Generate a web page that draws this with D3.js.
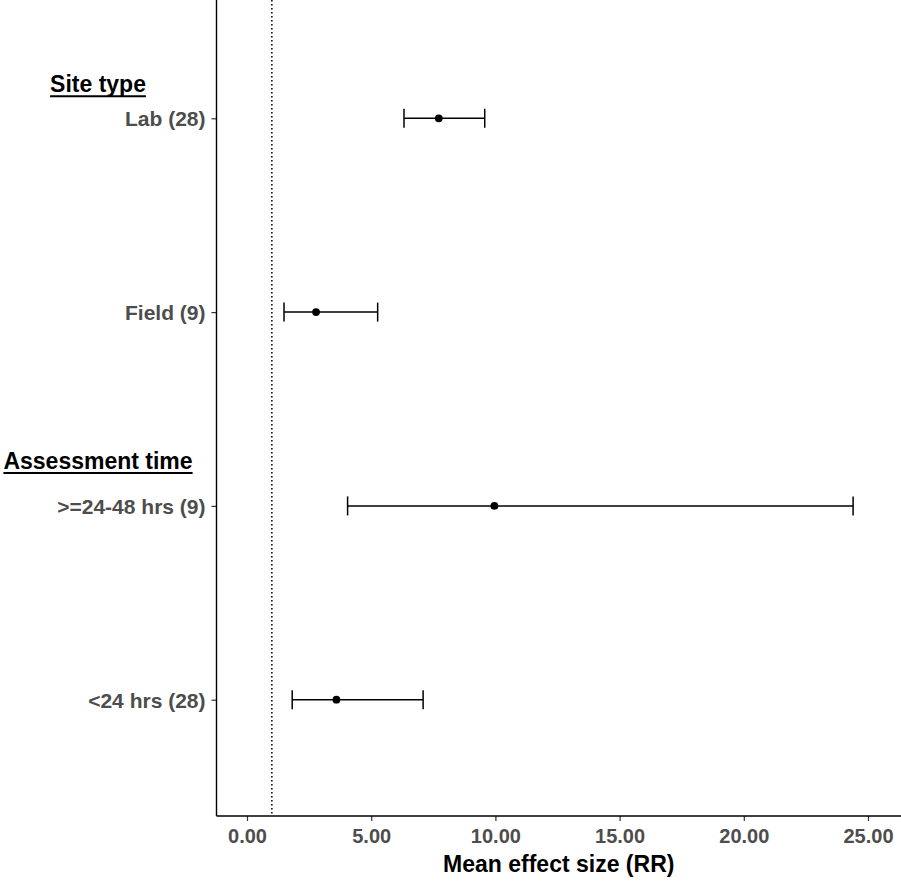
<!DOCTYPE html>
<html>
<head>
<meta charset="utf-8">
<script src="https://cdn.jsdelivr.net/npm/d3@7"></script>
<style>
  html, body { margin: 0; padding: 0; background: #fff; }
  svg { display: block; }
  text { font-family: "Liberation Sans", Arial, sans-serif; font-weight: bold; }
</style>
</head>
<body>
<script>
// ---- data ----
const categories = ["Lab (28)", "Field (9)", ">=24-48 hrs (9)", "<24 hrs (28)"];
const means = [7.72, 2.78, 9.96, 3.60];
const lower = [6.32, 1.49, 4.05, 1.82];
const upper = [9.57, 5.26, 24.40, 7.09];
const groupHeaders = ["Site type", "Assessment time"];
const groupFirstCategory = ["Lab (28)", ">=24-48 hrs (9)"];
const xTicks = [0, 5, 10, 15, 20, 25];
const refLine = 1;
const xTitle = "Mean effect size (RR)";

// ---- layout ----
const W = 901, H = 881;
const panelLeft = 216.5, panelRight = 901, panelTop = 2, panelBottom = 816;

const svg = d3.select("body").append("svg").attr("width", W).attr("height", H);

const x = d3.scaleLinear().domain([0, 25]).range([247, 868]);
const y = d3.scalePoint().domain(categories).range([panelTop, panelBottom]).padding(0.6);

// reference dotted line
svg.append("line")
  .attr("x1", x(refLine)).attr("x2", x(refLine))
  .attr("y1", 0).attr("y2", panelBottom)
  .attr("stroke", "#000").attr("stroke-width", 1.5)
  .attr("stroke-dasharray", "1.5,2.5");

// axes
const xAxis = d3.axisBottom(x).tickValues(xTicks).tickFormat(d3.format(".2f")).tickSize(5).tickSizeOuter(0);
const gx = svg.append("g").attr("transform", `translate(0,${panelBottom})`).call(xAxis);
gx.select(".domain").remove();
gx.selectAll(".tick line").attr("stroke", "#333").attr("stroke-width", 1.2);
gx.selectAll(".tick text").attr("fill", "#4d4d4d").attr("font-size", 20).attr("dy", null).attr("y", 27);
svg.append("line").attr("x1", panelLeft).attr("x2", panelRight)
  .attr("y1", panelBottom).attr("y2", panelBottom)
  .attr("stroke", "#000").attr("stroke-width", 1.4);

const yAxis = d3.axisLeft(y).tickSize(5).tickSizeOuter(0).tickPadding(6);
const gy = svg.append("g").attr("transform", `translate(${panelLeft},0)`).call(yAxis);
gy.select(".domain").remove();
gy.selectAll(".tick line").attr("stroke", "#333").attr("stroke-width", 1.2);
gy.selectAll(".tick text").attr("fill", "#4d4d4d").attr("font-size", 21).attr("dy", "0.36em");
svg.append("line").attr("x1", panelLeft).attr("x2", panelLeft)
  .attr("y1", 0).attr("y2", panelBottom)
  .attr("stroke", "#000").attr("stroke-width", 1.4);

// error bars
const rows = categories.map((c, i) => ({ c, m: means[i], lo: lower[i], hi: upper[i] }));
const eb = svg.append("g");
eb.selectAll(".bar").data(rows).join("line")
  .attr("x1", d => x(d.lo)).attr("x2", d => x(d.hi))
  .attr("y1", d => y(d.c)).attr("y2", d => y(d.c))
  .attr("stroke", "#000").attr("stroke-width", 1.5);
eb.selectAll(".capl").data(rows).join("line")
  .attr("x1", d => x(d.lo)).attr("x2", d => x(d.lo))
  .attr("y1", d => y(d.c) - 9.5).attr("y2", d => y(d.c) + 9.5)
  .attr("stroke", "#000").attr("stroke-width", 1.5);
eb.selectAll(".capr").data(rows).join("line")
  .attr("x1", d => x(d.hi)).attr("x2", d => x(d.hi))
  .attr("y1", d => y(d.c) - 9.5).attr("y2", d => y(d.c) + 9.5)
  .attr("stroke", "#000").attr("stroke-width", 1.5);
eb.selectAll("circle").data(rows).join("circle")
  .attr("cx", d => x(d.m)).attr("cy", d => y(d.c)).attr("r", 3.9)
  .attr("fill", "#000");

// group headers (underlined)
const headerOffsets = [26, 37];
groupHeaders.forEach((h, i) => {
  const by = y(groupFirstCategory[i]) - headerOffsets[i];
  const t = svg.append("text").attr("x", 98).attr("y", by)
    .attr("text-anchor", "middle").attr("font-size", 23).attr("fill", "#000").text(h);
  const len = t.node().getComputedTextLength();
  svg.append("line").attr("x1", 98 - len / 2).attr("x2", 98 + len / 2)
    .attr("y1", by + 4).attr("y2", by + 4)
    .attr("stroke", "#000").attr("stroke-width", 2);
});

// x axis title
svg.append("text").attr("x", (panelLeft + panelRight) / 2).attr("y", 872)
  .attr("text-anchor", "middle").attr("font-size", 23).attr("fill", "#000").text(xTitle);
</script>
</body>
</html>
